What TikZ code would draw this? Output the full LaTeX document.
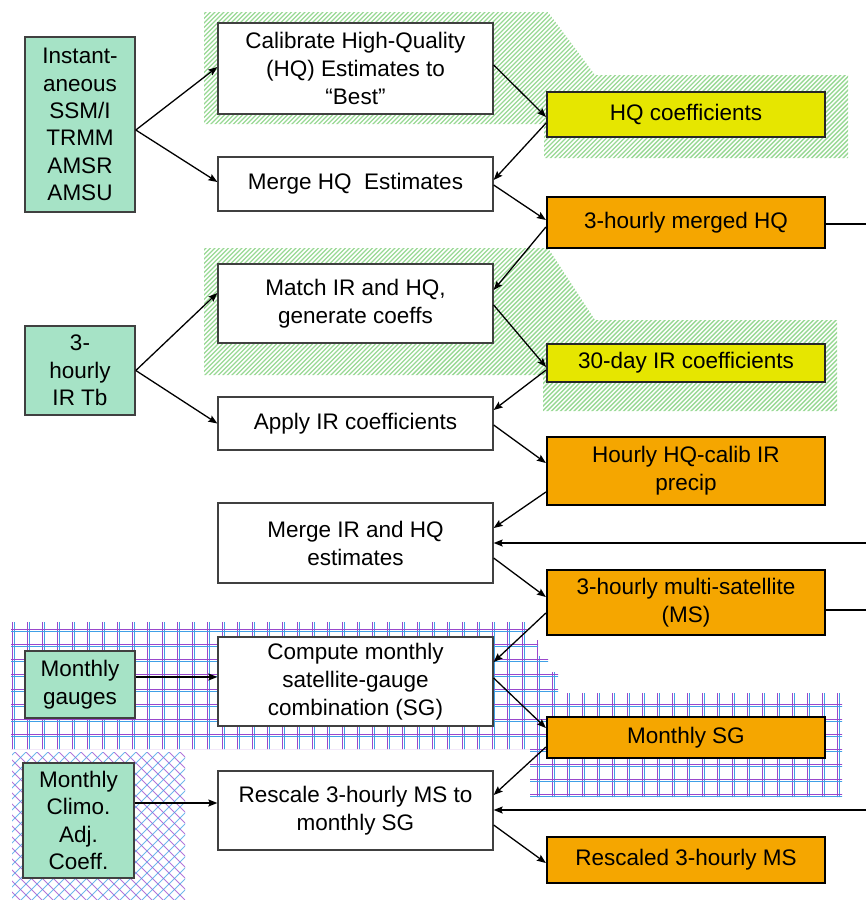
\documentclass[tikz,border=0pt]{standalone}
\usepackage{fontspec}
\setmainfont{Liberation Sans}
\usetikzlibrary{arrows.meta,calc}
\definecolor{boxgreen}{HTML}{A6E3C6}
\definecolor{hqyellow}{HTML}{E6E600}
\definecolor{hqorange}{HTML}{F5A600}
\definecolor{hatchgreen}{HTML}{98D894}
\definecolor{gridblue}{HTML}{40A0E6}
\definecolor{gridpurple}{HTML}{9A48CC}
\begin{document}
\begin{tikzpicture}[x=1pt,y=-1pt,
  txt/.style={align=center,inner sep=0pt,font=\fontsize{22.5}{28}\selectfont},
  procbox/.style={txt,draw=black!75,line width=1.3pt,fill=white,minimum width=275pt},
  srcbox/.style={txt,draw=black!75,line width=1.6pt,fill=boxgreen,minimum width=110pt},
  yelbox/.style={txt,draw=black!85,line width=1.8pt,fill=hqyellow,minimum width=278pt},
  orabox/.style={txt,draw=black,line width=2.2pt,fill=hqorange,minimum width=278pt},
  conn/.style={line width=1.3pt,-{Stealth[length=9pt,width=7pt,inset=1.5pt]}},
  plain/.style={line width=1.3pt},
  hatchline/.style={hatchgreen,line width=1.4pt},
  gridb/.style={gridblue,line width=1.2pt},
  gridp/.style={gridpurple,line width=1.2pt}]
\useasboundingbox (0,0) rectangle (866,900);

% green hatched regions
\begin{scope}
\clip (204,12) -- (548,12) -- (595,75) -- (848,75) -- (848,158) -- (544,158) -- (544,124) -- (204,124) -- cycle;
\foreach \a in {200,204.5,...,1060} \draw[hatchline] (\a,0) -- ++(-200,200);
\end{scope}
\begin{scope}
\clip (204,248) -- (548,248) -- (595,320) -- (837,320) -- (837,411) -- (543,411) -- (543,375) -- (204,375) -- cycle;
\foreach \a in {200,204.5,...,1060} \draw[hatchline] (\a,236) -- ++(-200,200);
\end{scope}

% grid region
\begin{scope}
\clip (11,622) -- (527,622) -- (527,640) -- (538,640) -- (538,656) -- (548,656) -- (548,672) -- (558,672) -- (558,693) -- (842,693) -- (842,797) -- (530,797) -- (530,749) -- (11,749) -- cycle;
\foreach \a in {12.5,27.5,...,850} {\draw[gridp] (\a,600) -- (\a,820); \draw[gridb] (\a+2,600) -- (\a+2,820);}
\foreach \b in {629.5,644.5,...,800} {\draw[gridp] (0,\b) -- (866,\b); \draw[gridb] (0,\b+2) -- (866,\b+2);}
\end{scope}

% cross-hatched region
\begin{scope}
\clip (12,752) rectangle (185,900);
\foreach \a in {-150,-139,...,340} {\draw[gridp,line width=0.8pt,opacity=0.75] (\a,752) -- ++(160,160); \draw[gridb,line width=0.8pt,opacity=0.75] (\a,752) -- ++(-160,160);}
\end{scope}

% source boxes
\node[srcbox,minimum height=175pt,font=\fontsize{22.5}{27.3}\selectfont] (inst) at (80,124.5) {Instant-\\aneous\\SSM/I\\TRMM\\AMSR\\AMSU};
\node[srcbox,minimum height=89pt,font=\fontsize{22.5}{27.3}\selectfont] (irtb) at (80,370.5) {3-\\hourly\\IR Tb};
\node[srcbox,minimum height=67pt] (gauges) at (80,684.5) {Monthly\\gauges};
\node[srcbox,minimum width=111pt,minimum height=115pt,font=\fontsize{22.5}{27.3}\selectfont] (climo) at (78.5,820.5) {Monthly\\Climo.\\Adj.\\Coeff.};

% process boxes
\node[procbox,minimum height=91pt] (cal) at (355.5,68.5) {Calibrate High-Quality\\(HQ) Estimates to\\“Best”};
\node[procbox,minimum height=54pt] (mergehq) at (355.5,184) {Merge HQ~ Estimates};
\node[procbox,minimum height=79pt] (match) at (355.5,303.5) {Match IR and HQ,\\generate coeffs};
\node[procbox,minimum height=53pt] (apply) at (355.5,423.5) {Apply IR coefficients};
\node[procbox,minimum height=80pt] (mergeir) at (355.5,543) {Merge IR and HQ\\estimates};
\node[procbox,minimum height=89pt] (compute) at (355.5,681.5) {Compute monthly\\satellite-gauge\\combination (SG)};
\node[procbox,minimum height=79pt] (rescale) at (355.5,810.5) {Rescale 3-hourly MS to\\monthly SG};

% product boxes
\node[yelbox,minimum height=45pt] (hqc) at (686,114.5) {HQ coefficients};
\node[orabox,minimum height=51pt] (mhq) at (686,222.5) {3-hourly merged HQ};
\node[yelbox,minimum height=38pt] (ird) at (686,363) {30-day IR coefficients};
\node[orabox,minimum height=68pt] (hourly) at (686,471) {Hourly HQ-calib IR\\precip};
\node[orabox,minimum height=65pt] (ms) at (686,602.5) {3-hourly multi-satellite\\(MS)};
\node[orabox,minimum height=41pt] (msg) at (686,737.5) {Monthly SG};
\node[orabox,minimum height=46pt] (rms) at (686,860) {Rescaled 3-hourly MS};

% free ends at the right border
\coordinate (r1) at (866,224);
\coordinate (r2) at (866,543);
\coordinate (r3) at (866,610);
\coordinate (r4) at (866,810);

% connectors
\draw[conn] ([yshift=-5.5pt]inst.east) -- ([yshift=1.5pt]cal.west);
\draw[conn] ([yshift=-5.5pt]inst.east) -- ([yshift=2pt]mergehq.west);
\draw[conn] ([yshift=3.5pt]cal.east) -- ([yshift=-2.5pt]hqc.west);
\draw[conn] ([yshift=-8.5pt]hqc.west) -- ([yshift=4pt]mergehq.east);
\draw[conn] ([yshift=-1pt]mergehq.east) -- ([yshift=2.5pt]mhq.west);
\draw[conn] ([yshift=-4.5pt]mhq.west) -- ([yshift=13.5pt]match.east);
\draw[plain] ([yshift=-1.5pt]mhq.east) -- (r1);
\draw[conn] (irtb.east) -- ([yshift=10.5pt]match.west);
\draw[conn] (irtb.east) -- (apply.west);
\draw[conn] ([yshift=-1.5pt]match.east) -- ([yshift=-4pt]ird.west);
\draw[conn] ([yshift=-7pt]ird.west) -- ([yshift=13.5pt]apply.east);
\draw[conn] ([yshift=-1.5pt]apply.east) -- ([yshift=8pt]hourly.west);
\draw[conn] ([yshift=-21pt]hourly.west) -- ([yshift=15pt]mergeir.east);
\draw[conn] (r2) -- (mergeir.east);
\draw[conn] ([yshift=-15pt]mergeir.east) -- ([yshift=5.5pt]ms.west);
\draw[plain] ([yshift=-7.5pt]ms.east) -- (r3);
\draw[conn] ([yshift=-10.5pt]ms.west) -- ([yshift=19.5pt]compute.east);
\draw[conn] ([yshift=7.5pt]gauges.east) -- ([yshift=4.5pt]compute.west);
\draw[conn] ([yshift=3.5pt]compute.east) -- ([yshift=9.5pt]msg.west);
\draw[conn] ([yshift=-9.5pt]msg.west) -- ([yshift=15.5pt]rescale.east);
\draw[conn] (r4) -- ([yshift=0.5pt]rescale.east);
\draw[conn] ([yshift=-14.5pt]rescale.east) -- ([yshift=-3pt]rms.west);
\draw[conn] ([yshift=17.5pt]climo.east) -- ([yshift=7.5pt]rescale.west);
\end{tikzpicture}
\end{document}
